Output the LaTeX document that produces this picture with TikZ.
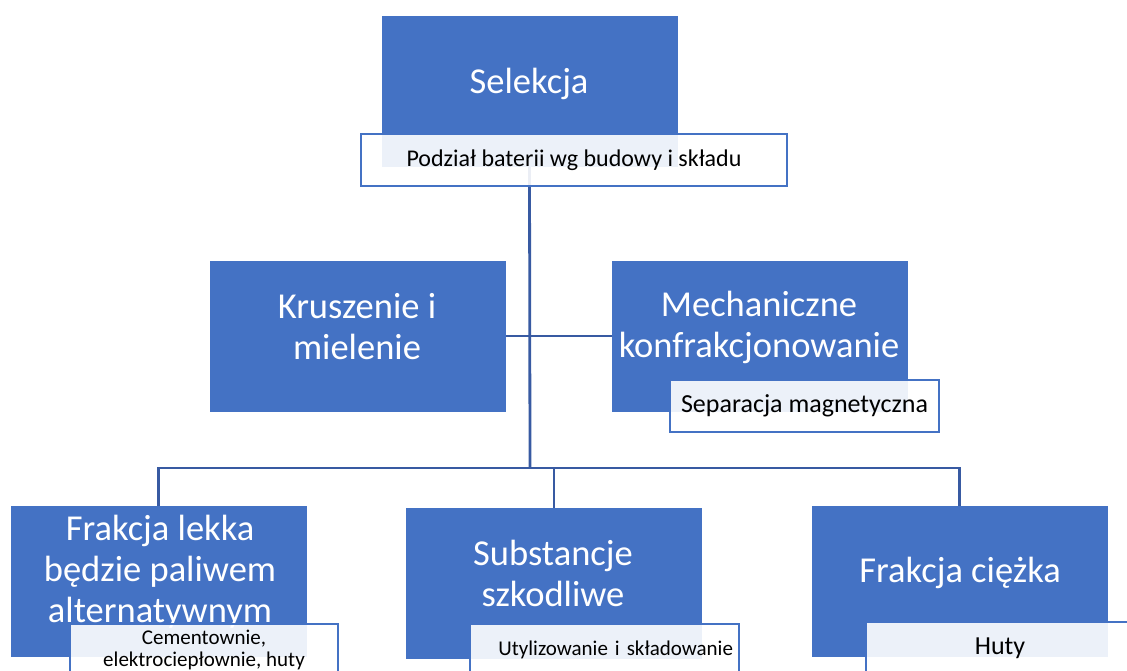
\documentclass[tikz,border=0pt]{standalone}
\usepackage{fontspec}
\setmainfont{Carlito}
\usetikzlibrary{positioning}
\usetikzlibrary{backgrounds}
\definecolor{boxblue}{HTML}{4472C4}
\definecolor{linkblue}{RGB}{56,90,162}
\tikzset{
	stage/.style={
		fill=boxblue,
		minimum width=296pt,
		minimum height=151pt,
		inner sep=0pt,
		outer sep=0pt,
	},
	stagetext/.style={
		text=white,
		align=center,
		font=\fontsize{36.5}{41}\selectfont,
	},
	note/.style={
		draw=boxblue,
		line width=1.5pt,
		fill=white,
		fill opacity=0.9,
		text opacity=1,
		minimum height=52pt,
		inner sep=0pt,
		align=center,
	},
	link/.style={
		draw=linkblue,
		line width=2.8pt,
	},
}

\begin{document}
\begin{tikzpicture}[x=1pt,y=-1pt]
		\useasboundingbox (0,0) rectangle (1127,671);
		\clip (0,0) rectangle (1127,671);

		\node[stage] (sel)   at (529.5,91.5) {};
		\node[stage] (krusz) at (357.5,336) {};
		\node[stage] (mech)  at (759.5,336) {};
		\node[stage] (lekka) at (158.5,581.5) {};
		\node[stage] (subst) at (554,583) {};
		\node[stage] (ciez)  at (959.5,581) {};

		\node[stagetext] (sel-t)   at (529,84) {Selekcja};
		\node[stagetext] (krusz-t) at (357,327) {Kruszenie i\\mielenie};
		\node[stagetext] (mech-t)  at (759,327) {Mechaniczne\\konfrakcjonowanie};
		\node[stagetext] (lekka-t) at (160,572) {Frakcja lekka\\będzie paliwem\\alternatywnym};
		\node[stagetext] (subst-t) at (553,573) {Substancje\\szkodliwe};
		\node[stagetext] (ciez-t)  at (960,573) {Frakcja ciężka};

		\node[note, minimum width=426pt, font=\fontsize{24}{28}\selectfont]
			(podz) at (574,160) {Podział baterii wg budowy i składu};
		\node[note, minimum width=269pt, font=\fontsize{26}{30}\selectfont]
			(sep) at (804.5,406) {Separacja magnetyczna};
		\node[note, minimum width=268pt, font=\fontsize{21}{22.5}\selectfont]
			(cem) at (204,650) {Cementownie,\\elektrociepłownie, huty};
		\node[note, minimum width=269pt, text width=257pt, align=right, font=\fontsize{21}{25}\selectfont]
			(utyl) at (604.5,650) {Utylizowanie i składowanie};
		\node[note, minimum width=268pt, font=\fontsize{26}{30}\selectfont]
			(huty) at (1000,648) {Huty};

		\coordinate (hub) at (530,468);

		\begin{scope}[on background layer]
			\draw[link] (sel.south) -- (hub);
			\draw[link] (krusz) -- (mech);
			\draw[link] (lekka.north) |- (hub) -| (ciez.north);
			\draw[link] (subst.north) |- (hub);
		\end{scope}

	\end{tikzpicture}
\end{document}
